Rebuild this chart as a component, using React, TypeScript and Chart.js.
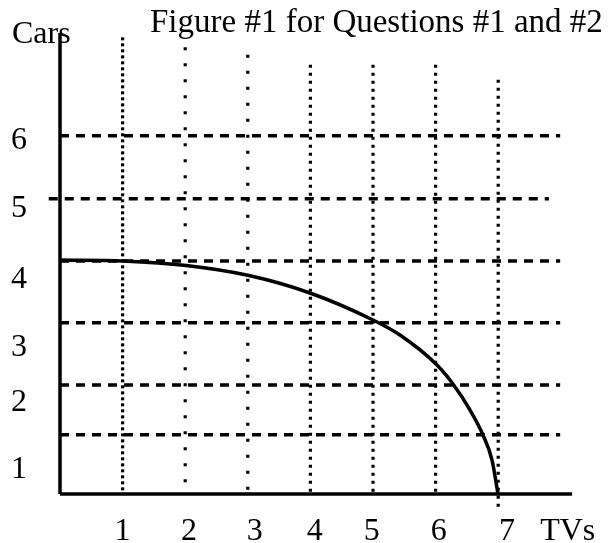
import React, { useEffect, useRef } from "react";
import { Chart, registerables } from "chart.js";

Chart.register(...registerables);

// ---- text ----
const chartTitle = "Figure #1 for Questions #1 and #2";
const yAxisTitle = "Cars";
const xAxisTitle = "TVs";

// ---- tick labels (value, and where the label sits in data units) ----
const tvTickLabels = ["1", "2", "3", "4", "5", "6", "7"];
const tvTickPos = [1.0, 2.06, 3.11, 4.07, 4.98, 6.05, 7.14];
const carTickLabels = ["6", "5", "4", "3", "2", "1"];
const carTickPos = [5.71, 4.62, 3.48, 2.39, 1.51, 0.43];

// ---- vertical dotted guide lines (at each TV count) ----
const vGridX = [1, 2, 3, 4, 5, 6, 7];
const vGridTop = [7.33, 7.17, 7.05, 6.89, 6.89, 6.89, 6.65];
const vGridBottom = [0, 0, -0.05, 0, 0, 0, -0.22];

// ---- horizontal dashed guide lines ----
const hGridY = [5.75, 4.74, 3.74, 2.75, 1.75, 0.95];
const hGridStart = [0, -0.18, 0, 0, 0, 0];
const hGridEnd = [7.99, 7.81, 7.99, 7.99, 7.99, 7.99];

// ---- axes extents ----
const yAxisTop = 7.4;
const xAxisEnd = 8.18;

// ---- production possibilities frontier ----
const ppfTVs = [0, 1.006, 2.013, 3.019, 3.994, 5.0, 5.431, 6.022, 6.278, 6.55, 6.757, 6.901, 6.997];
const ppfCars = [3.756, 3.74, 3.668, 3.507, 3.226, 2.793, 2.552, 2.071, 1.766, 1.348, 0.947, 0.546, 0];

const W = 614;
const H = 543;
const FONT = '"Liberation Serif", "Times New Roman", serif';

export default function App() {
  const ref = useRef<HTMLCanvasElement | null>(null);

  useEffect(() => {
    if (!ref.current) return;

    const datasets: any[] = [];

    // curve on top
    datasets.push({
      label: "PPF",
      data: ppfTVs.map((x, i) => ({ x, y: ppfCars[i] })),
      borderColor: "#000",
      borderWidth: 3.5,
      pointRadius: 0,
      cubicInterpolationMode: "monotone",
      fill: false,
      order: 0,
    });

    // axes
    datasets.push({
      label: "y-axis",
      data: [
        { x: 0, y: yAxisTop },
        { x: 0, y: 0 },
      ],
      borderColor: "#000",
      borderWidth: 3.5,
      pointRadius: 0,
      order: 1,
    });
    datasets.push({
      label: "x-axis",
      data: [
        { x: 0, y: 0 },
        { x: xAxisEnd, y: 0 },
      ],
      borderColor: "#000",
      borderWidth: 3.5,
      pointRadius: 0,
      order: 1,
    });

    // vertical dotted lines
    vGridX.forEach((x, i) => {
      const dash = i === 0 ? [3, 3] : i < 3 ? [3, 13] : [3, 5];
      datasets.push({
        label: "v" + x,
        data: [
          { x, y: vGridTop[i] },
          { x, y: vGridBottom[i] },
        ],
        borderColor: "#000",
        borderWidth: 3.2,
        borderDash: dash,
        borderCapStyle: "butt",
        pointRadius: 0,
        order: 2,
      });
    });

    // horizontal dashed lines
    hGridY.forEach((y, i) => {
      datasets.push({
        label: "h" + y,
        data: [
          { x: hGridStart[i], y },
          { x: hGridEnd[i], y },
        ],
        borderColor: "#000",
        borderWidth: 3.6,
        borderDash: [9, 7],
        borderCapStyle: "butt",
        pointRadius: 0,
        order: 2,
      });
    });

    const textPlugin = {
      id: "textLabels",
      afterDatasetsDraw(chart: any) {
        const ctx = chart.ctx;
        const xs = chart.scales.x;
        const ys = chart.scales.y;
        ctx.save();
        ctx.fillStyle = "#000";
        ctx.textBaseline = "alphabetic";

        // title
        ctx.font = `33px ${FONT}`;
        ctx.textAlign = "left";
        ctx.fillText(chartTitle, 150, 32);

        // y axis title
        ctx.font = `32px ${FONT}`;
        ctx.textAlign = "left";
        ctx.fillText(yAxisTitle, 12, 43);

        // y tick labels
        ctx.textAlign = "center";
        carTickLabels.forEach((t, i) => {
          const py = ys.getPixelForValue(carTickPos[i]);
          ctx.fillText(t, xs.getPixelForValue(-0.655), py + 11);
        });

        // x tick labels
        const xBase = ys.getPixelForValue(-0.738);
        tvTickLabels.forEach((t, i) => {
          ctx.fillText(t, xs.getPixelForValue(tvTickPos[i]), xBase);
        });

        // x axis title
        ctx.fillText(xAxisTitle, xs.getPixelForValue(8.11), xBase);
        ctx.restore();
      },
    };

    const chart = new Chart(ref.current, {
      type: "line",
      data: { datasets },
      options: {
        animation: false,
        responsive: false,
        maintainAspectRatio: false,
        devicePixelRatio: 1,
        layout: { padding: 0 },
        plugins: {
          legend: { display: false },
          title: { display: false },
          tooltip: { enabled: false },
        },
        scales: {
          x: {
            type: "linear",
            display: false,
            min: -60 / 62.6,
            max: (W - 60) / 62.6,
          },
          y: {
            type: "linear",
            display: false,
            min: (494 - H) / 62.3,
            max: 494 / 62.3,
          },
        },
      },
      plugins: [textPlugin],
    });

    return () => chart.destroy();
  }, []);

  return (
    <div
      style={{
        position: "absolute",
        left: 0,
        top: 0,
        width: W,
        height: H,
        background: "#fff",
      }}
    >
      <canvas ref={ref} width={W} height={H} />
    </div>
  );
}
